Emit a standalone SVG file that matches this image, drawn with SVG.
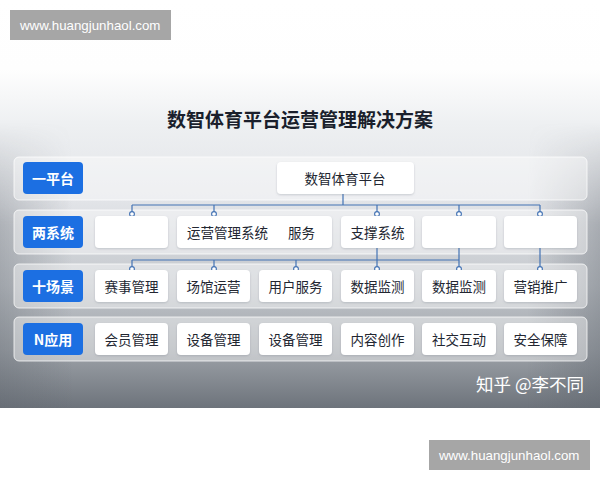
<svg xmlns="http://www.w3.org/2000/svg" width="600" height="480" viewBox="0 0 600 480">
<defs>
<linearGradient id="bg" x1="0" y1="0" x2="0" y2="1">
<stop offset="0" stop-color="#ffffff"/>
<stop offset="0.17" stop-color="#fefefe"/>
<stop offset="0.3" stop-color="#eef0f2"/>
<stop offset="0.5" stop-color="#e1e3e7"/>
<stop offset="0.7" stop-color="#c3c7cc"/>
<stop offset="0.86" stop-color="#9da2a8"/>
<stop offset="1" stop-color="#6d737b"/>
</linearGradient>
<linearGradient id="side" x1="0" y1="0" x2="1" y2="0">
<stop offset="0" stop-color="#5f656d" stop-opacity="0.35"/>
<stop offset="0.12" stop-color="#5f656d" stop-opacity="0"/>
<stop offset="0.88" stop-color="#5f656d" stop-opacity="0"/>
<stop offset="1" stop-color="#5f656d" stop-opacity="0.4"/>
</linearGradient>
<linearGradient id="mv" x1="0" y1="0" x2="0" y2="1">
<stop offset="0" stop-color="#000000"/>
<stop offset="0.3" stop-color="#000000"/>
<stop offset="0.55" stop-color="#ffffff"/>
<stop offset="1" stop-color="#ffffff"/>
</linearGradient>
<mask id="sidemask" maskUnits="userSpaceOnUse" x="0" y="0" width="600" height="408">
<rect x="0" y="0" width="600" height="408" fill="url(#mv)"/>
</mask>
<filter id="sh" x="-10%" y="-20%" width="120%" height="150%">
<feDropShadow dx="0" dy="1" stdDeviation="1" flood-color="#6a7380" flood-opacity="0.3"/>
</filter>
</defs>
<style>
.band{fill:#ffffff;fill-opacity:0.42;stroke:#ffffff;stroke-opacity:0.75;stroke-width:1}
.lbl{fill:#1c6fe2}
.lt{font-family:"Noto Sans CJK SC","Noto Sans",sans-serif;font-size:14px;font-weight:bold;fill:#ffffff;text-anchor:middle;dominant-baseline:central}
.box{fill:#ffffff;filter:url(#sh)}
.bt{font-family:"Noto Sans CJK SC","Noto Sans",sans-serif;font-size:13.5px;fill:#222631;text-anchor:middle;dominant-baseline:central}
.ln{stroke:#4272b4;stroke-width:1.2;fill:none}
.dot{fill:#ffffff;stroke:#4272b4;stroke-width:1.1}
.wm{fill:#a6a6a6}
.wt{font-family:"Liberation Sans",Arial,sans-serif;font-size:13.3px;fill:#ffffff;dominant-baseline:central}
</style>
<rect x="0" y="0" width="600" height="480" fill="#ffffff"/>
<rect x="0" y="0" width="600" height="408" fill="url(#bg)"/>
<rect x="0" y="0" width="600" height="408" fill="url(#side)" mask="url(#sidemask)"/>

<text x="300" y="118" font-family="'Noto Sans CJK SC','Noto Sans',sans-serif" font-size="19" font-weight="bold" fill="#1a1f2c" text-anchor="middle" dominant-baseline="central">数智体育平台运营管理解决方案</text>

<g id="bands">
<rect class="band" x="14" y="157" width="573" height="43" rx="5"/>
<rect class="band" x="14" y="210" width="573" height="44" rx="5"/>
<rect class="band" x="14" y="264" width="573" height="44" rx="5"/>
<rect class="band" x="14" y="317" width="573" height="44" rx="5"/>
</g>

<g id="connectors">
<line class="ln" x1="343" y1="194" x2="343" y2="205"/>
<line class="ln" x1="132" y1="205" x2="540" y2="205"/>
<line class="ln" x1="132" y1="205" x2="132" y2="213"/>
<line class="ln" x1="214" y1="205" x2="214" y2="213"/>
<line class="ln" x1="377" y1="205" x2="377" y2="213"/>
<line class="ln" x1="459" y1="205" x2="459" y2="213"/>
<line class="ln" x1="540" y1="205" x2="540" y2="213"/>
<line class="ln" x1="132" y1="260" x2="459" y2="260"/>
<line class="ln" x1="132" y1="260" x2="132" y2="268"/>
<line class="ln" x1="214" y1="260" x2="214" y2="268"/>
<line class="ln" x1="296" y1="260" x2="296" y2="268"/>
<line class="ln" x1="377" y1="248" x2="377" y2="268"/>
<line class="ln" x1="459" y1="248" x2="459" y2="268"/>
<line class="ln" x1="540" y1="248" x2="540" y2="268"/>
<circle class="dot" cx="132" cy="214" r="2.4"/>
<circle class="dot" cx="214" cy="214" r="2.4"/>
<circle class="dot" cx="377" cy="214" r="2.4"/>
<circle class="dot" cx="459" cy="214" r="2.4"/>
<circle class="dot" cx="540" cy="214" r="2.4"/>
<circle class="dot" cx="132" cy="269" r="2.4"/>
<circle class="dot" cx="214" cy="269" r="2.4"/>
<circle class="dot" cx="296" cy="269" r="2.4"/>
<circle class="dot" cx="377" cy="269" r="2.4"/>
<circle class="dot" cx="459" cy="269" r="2.4"/>
<circle class="dot" cx="540" cy="269" r="2.4"/>
</g>

<g id="label-platform"><rect class="lbl" x="23" y="162" width="60" height="32" rx="4"/><text class="lt" x="53" y="178">一平台</text></g>
<g id="label-systems"><rect class="lbl" x="23" y="216" width="60" height="32" rx="4"/><text class="lt" x="53" y="232">两系统</text></g>
<g id="label-scenes"><rect class="lbl" x="23" y="270" width="60" height="32" rx="4"/><text class="lt" x="53" y="286">十场景</text></g>
<g id="label-apps"><rect class="lbl" x="23" y="323" width="60" height="32" rx="4"/><text class="lt" x="53" y="339">N应用</text></g>

<g id="platform"><rect class="box" x="277" y="162" width="137" height="32" rx="4"/><text class="bt" x="345" y="178">数智体育平台</text></g>

<g id="sys-1"><rect class="box" x="95" y="216" width="73" height="32" rx="4"/></g>
<g id="sys-ops"><rect class="box" x="177" y="216" width="155" height="32" rx="4"/><text class="bt" x="187" y="232" style="text-anchor:start">运营管理系统</text><text class="bt" x="288" y="232" style="text-anchor:start">服务</text></g>
<g id="sys-support"><rect class="box" x="341" y="216" width="73" height="32" rx="4"/><text class="bt" x="377.5" y="232">支撑系统</text></g>
<g id="sys-4"><rect class="box" x="422" y="216" width="74" height="32" rx="4"/></g>
<g id="sys-5"><rect class="box" x="504" y="216" width="73" height="32" rx="4"/></g>

<g id="scene-1"><rect class="box" x="95" y="270" width="73" height="32" rx="4"/><text class="bt" x="131.5" y="286">赛事管理</text></g>
<g id="scene-2"><rect class="box" x="177" y="270" width="73" height="32" rx="4"/><text class="bt" x="213.5" y="286">场馆运营</text></g>
<g id="scene-3"><rect class="box" x="259" y="270" width="73" height="32" rx="4"/><text class="bt" x="295.5" y="286">用户服务</text></g>
<g id="scene-4"><rect class="box" x="341" y="270" width="73" height="32" rx="4"/><text class="bt" x="377.5" y="286">数据监测</text></g>
<g id="scene-5"><rect class="box" x="422" y="270" width="74" height="32" rx="4"/><text class="bt" x="459" y="286">数据监测</text></g>
<g id="scene-6"><rect class="box" x="504" y="270" width="73" height="32" rx="4"/><text class="bt" x="540.5" y="286">营销推广</text></g>

<g id="app-1"><rect class="box" x="95" y="323" width="73" height="32" rx="4"/><text class="bt" x="131.5" y="339">会员管理</text></g>
<g id="app-2"><rect class="box" x="177" y="323" width="73" height="32" rx="4"/><text class="bt" x="213.5" y="339">设备管理</text></g>
<g id="app-3"><rect class="box" x="259" y="323" width="73" height="32" rx="4"/><text class="bt" x="295.5" y="339">设备管理</text></g>
<g id="app-4"><rect class="box" x="341" y="323" width="73" height="32" rx="4"/><text class="bt" x="377.5" y="339">内容创作</text></g>
<g id="app-5"><rect class="box" x="422" y="323" width="74" height="32" rx="4"/><text class="bt" x="459" y="339">社交互动</text></g>
<g id="app-6"><rect class="box" x="504" y="323" width="73" height="32" rx="4"/><text class="bt" x="540.5" y="339">安全保障</text></g>

<text x="584" y="383" font-family="'Noto Sans CJK SC','Noto Sans',sans-serif" font-size="17.5" fill="#ffffff" text-anchor="end" dominant-baseline="central">知乎 @李不同</text>

<g id="watermark-top"><rect class="wm" x="10" y="10" width="161" height="30"/><text class="wt" x="20" y="25">www.huangjunhaol.com</text></g>
<g id="watermark-bottom"><rect class="wm" x="429" y="440" width="161" height="30"/><text class="wt" x="439" y="455">www.huangjunhaol.com</text></g>
</svg>
